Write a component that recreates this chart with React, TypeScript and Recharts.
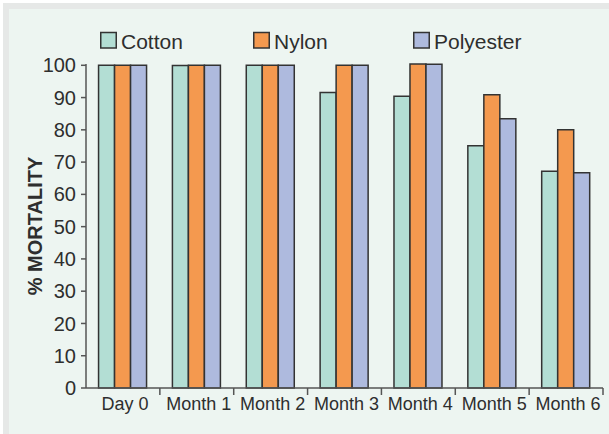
import React from 'react';
import { BarChart, Bar, XAxis, YAxis, Legend, Label } from 'recharts';

const categories = ['Day 0', 'Month 1', 'Month 2', 'Month 3', 'Month 4', 'Month 5', 'Month 6'];
const cotton = [100, 99.9, 100, 91.6, 90.4, 75.1, 67.2];
const nylon = [100, 100, 100, 100, 100.4, 90.9, 80.0];
const polyester = [100, 100, 100, 100, 100.3, 83.4, 66.7];
const yTicks = [0, 10, 20, 30, 40, 50, 60, 70, 80, 90, 100];

const seriesNames = ['Cotton', 'Nylon', 'Polyester'];
const seriesColors = ['#b3ded4', '#f4994f', '#aebade'];

const data = categories.map((c, i) => ({
  name: c,
  Cotton: cotton[i],
  Nylon: nylon[i],
  Polyester: polyester[i],
}));

const FONT = '"Liberation Sans", Arial, sans-serif';
const TEXT = '#2e2e2e';
const AXIS = '#555555';

const XTick = (props: any) => {
  const { x, y, payload } = props;
  const half = payload && typeof payload.offset === 'number' && payload.offset > 0 ? payload.offset : (609 - 86 - 6) / 14;
  return (
    <g>
      <line x1={x + half} x2={x + half} y1={y} y2={y + 7} stroke={AXIS} strokeWidth={1.5} />
      <text x={x + 2} y={y + 22} textAnchor="middle" fontSize={18} fill={TEXT} fontFamily={FONT}>
        {payload.value}
      </text>
    </g>
  );
};

const legendLefts = [100, 253, 413];

const renderLegend = (props: any) => {
  const payload = props.payload || [];
  return (
    <svg width={609} height={30} style={{ display: 'block' }}>
      {payload.map((entry: any, i: number) => (
        <g key={i}>
          <rect x={legendLefts[i] + 0.75} y={2.5} width={15.5} height={15.5} fill={entry.color} stroke="#333" strokeWidth={1.5} />
          <text x={legendLefts[i] + 21} y={19} fontSize={21} fill={TEXT} fontFamily={FONT}>
            {entry.value}
          </text>
        </g>
      ))}
    </svg>
  );
};

const YLabel = (props: any) => {
  const vb = props.viewBox || { x: 0, y: 64, width: 86, height: 324 };
  const cx = vb.x + 42;
  const cy = vb.y + vb.height / 2;
  return (
    <text
      x={cx}
      y={cy}
      transform={`rotate(-90 ${cx} ${cy})`}
      textAnchor="middle"
      fontSize={20}
      fontWeight="bold"
      fill={TEXT}
      fontFamily={FONT}
    >
      % MORTALITY
    </text>
  );
};

export default function App() {
  return (
    <div style={{ position: 'absolute', left: 0, top: 0, width: 609, height: 434, background: '#ffffff', overflow: 'hidden' }}>
      <div style={{ position: 'absolute', left: 3, top: 3, width: 640, height: 460, background: '#e6e8e7' }} />
      <div style={{ position: 'absolute', left: 9, top: 9, width: 640, height: 460, background: '#edf5f1' }} />
      <div style={{ position: 'absolute', left: 0, top: 0 }}>
        <BarChart
          width={609}
          height={434}
          data={data}
          margin={{ top: 34, right: 6, bottom: 0, left: 0 }}
          barCategoryGap="17%"
          barGap={0}
        >
          <XAxis
            dataKey="name"
            height={46}
            tickSize={0}
            tickMargin={0}
            tickLine={false}
            axisLine={{ stroke: AXIS, strokeWidth: 1.5 }}
            tick={<XTick />}
            interval={0}
          />
          <YAxis
            width={86}
            domain={[0, 100]}
            ticks={yTicks}
            interval={0}
            tickSize={5}
            tickMargin={5}
            axisLine={{ stroke: AXIS, strokeWidth: 1.5 }}
            tickLine={{ stroke: AXIS, strokeWidth: 1.5 }}
            tick={{ fontSize: 20, fill: TEXT, fontFamily: FONT }}
          >
            <Label content={<YLabel />} />
          </YAxis>
          <Legend
            verticalAlign="top"
            content={renderLegend}
            wrapperStyle={{ position: 'absolute', top: 30, left: 0, width: 609, height: 30 }}
          />
          {seriesNames.map((s, i) => (
            <Bar key={s} dataKey={s} name={s} fill={seriesColors[i]} stroke="#333" strokeWidth={1.5} isAnimationActive={false} />
          ))}
        </BarChart>
      </div>
    </div>
  );
}
